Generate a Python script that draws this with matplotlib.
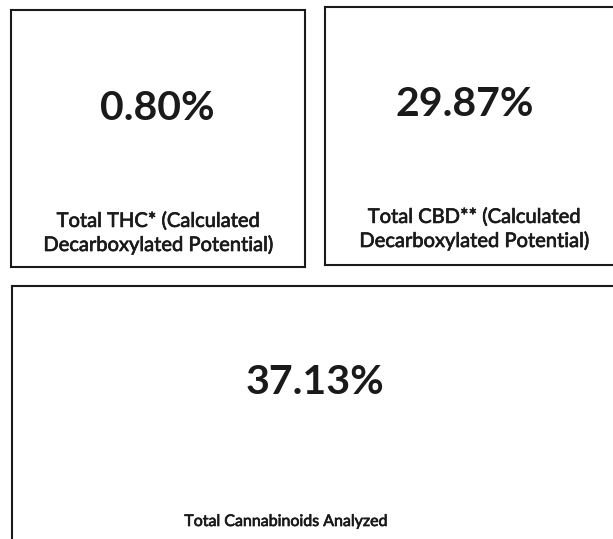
import matplotlib.pyplot as plt
import matplotlib.patheffects as pe

# values and captions
values = ['0.80%', '29.87%', '37.13%']
captions = ['Total THC* (Calculated\nDecarboxylated Potential)',
            'Total CBD** (Calculated\nDecarboxylated Potential)',
            'Total Cannabinoids Analyzed']

plt.rcParams['font.family'] = ['Lato', 'DejaVu Sans']

fig = plt.figure(figsize=(6.13, 5.39), dpi=100)
ax = fig.add_axes([0, 0, 1, 1])
ax.set_xlim(0, 613)
ax.set_ylim(539, 0)
ax.axis('off')

lw = 1.5
col = '#1a1a1a'

# box outlines (x0, x1, y0, y1, right side, bottom side)
boxes = [(11, 305, 10, 267, True, True),
         (325, 640, 7, 265, False, True),
         (12, 640, 286, 560, False, False)]
for x0, x1, y0, y1, right, bottom in boxes:
    ax.plot([x0, x1], [y0, y0], color=col, lw=lw)
    ax.plot([x0, x0], [y0, y1], color=col, lw=lw)
    if right:
        ax.plot([x1, x1], [y0, y1], color=col, lw=lw)
    if bottom:
        ax.plot([x0, x1], [y1, y1], color=col, lw=lw)

value_pos = [(157, 108), (465, 104), (315, 383)]
caption_pos = [(158, 233), (474, 229), (286, 522)]
caption_size = [14.5, 14.5, 11.5]

for v, (x, y) in zip(values, value_pos):
    ax.text(x, y, v, ha='center', va='center', fontsize=29.5,
            fontweight='bold', color=col)

# captions are a touch heavier than regular Lato in the scan
thick = [pe.withStroke(linewidth=0.5, foreground=col)]
for c, (x, y), fs in zip(captions, caption_pos, caption_size):
    ax.text(x, y, c, ha='center', va='center', fontsize=fs,
            color=col, linespacing=1.4, path_effects=thick)

fig.savefig('out.png', dpi=100, facecolor='white')
